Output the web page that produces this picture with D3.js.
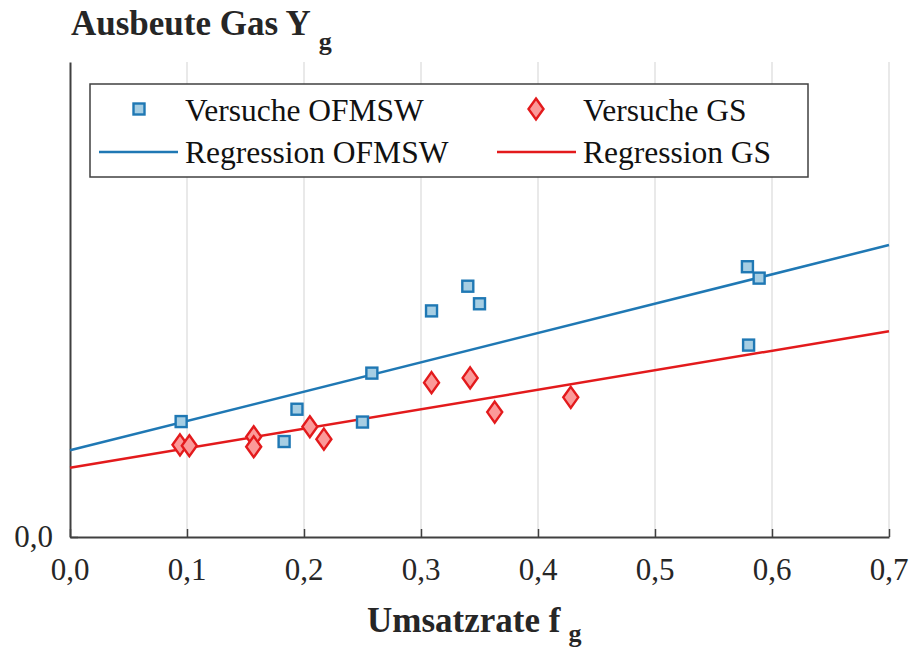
<!DOCTYPE html>
<html lang="de">
<head>
<meta charset="UTF-8">
<title>Ausbeute Gas</title>
<script src="https://d3js.org/d3.v7.min.js"></script>
<style>
  html, body { margin: 0; padding: 0; background: white; }
  svg text { font-family: "Liberation Serif", "Times New Roman", Times, serif; }
  .tick-label { font-size: 31px; fill: #262626; }
  .legend text { font-size: 31.5px; fill: #111; }
  .title { font-size: 35px; font-weight: bold; fill: #262626; }
</style>
</head>
<body>
<div id="chart"></div>
<script>

// ---------- data ----------
const ofmswX = [0.095, 0.194, 0.183, 0.250, 0.258, 0.309, 0.340, 0.350, 0.579, 0.589, 0.580];
const ofmswY = [0.243, 0.269, 0.201, 0.242, 0.345, 0.476, 0.528, 0.491, 0.569, 0.545, 0.404];

const gsX = [0.094, 0.102, 0.157, 0.157, 0.205, 0.217, 0.309, 0.342, 0.363, 0.428];
const gsY = [0.194, 0.192, 0.211, 0.190, 0.232, 0.206, 0.325, 0.335, 0.263, 0.294];

// regression lines, end points at f = 0 and f = 0.7
const regX = [0, 0.7];
const regOfmswY = [0.1825, 0.6147];
const regGsY = [0.1459, 0.4331];

const xTicks = [0, 0.1, 0.2, 0.3, 0.4, 0.5, 0.6, 0.7];
const yTicks = [0];

const blue = "#1f78b4", blueFill = "#a6cee3";
const red = "#e31a1c", redFill = "#fb9a99";

// ---------- size ----------
const totalWidth = 911, totalHeight = 653;
const margin = {top: 62, right: 22, bottom: 116, left: 70};

const svg = d3.select("#chart").append("svg")
  .attr("width", totalWidth)
  .attr("height", totalHeight)
  .attr("font-family", "'Liberation Serif', 'Times New Roman', serif");

const x = d3.scaleLinear().domain([0, 0.7]).range([margin.left, totalWidth - margin.right]);
const y = d3.scaleLinear().domain([0, 1]).range([totalHeight - margin.bottom, margin.top]);

const fmt = d => d3.format(".1f")(d).replace(".", ",");

// ---------- grid ----------
svg.append("g")
  .selectAll("line")
  .data(xTicks.slice(1))
  .join("line")
  .attr("x1", d => x(d)).attr("x2", d => x(d))
  .attr("y1", y(1)).attr("y2", y(0))
  .attr("stroke", "#e2e2e2")
  .attr("stroke-width", 1.5);

// ---------- axes ----------
const xAxis = svg.append("g")
  .attr("transform", `translate(0,${y(0)})`)
  .call(d3.axisBottom(x).tickValues(xTicks).tickSizeInner(-8).tickSizeOuter(0).tickFormat(""));
xAxis.select(".domain").attr("stroke", "#404040").attr("stroke-width", 2);
xAxis.selectAll(".tick line").attr("stroke", "#404040").attr("stroke-width", 1.5);

const yAxis = svg.append("g")
  .attr("transform", `translate(${x(0)},0)`)
  .call(d3.axisLeft(y).tickValues(yTicks).tickSizeInner(-8).tickSizeOuter(0).tickFormat(""));
yAxis.select(".domain").attr("stroke", "#404040").attr("stroke-width", 2);
yAxis.selectAll(".tick line").attr("stroke", "#404040").attr("stroke-width", 1.5);

svg.append("g")
  .selectAll("text")
  .data(xTicks)
  .join("text")
  .attr("class", "tick-label")
  .attr("x", d => x(d))
  .attr("y", y(0) + 43)
  .attr("text-anchor", "middle")
  .text(fmt);

svg.append("g")
  .selectAll("text")
  .data(yTicks)
  .join("text")
  .attr("class", "tick-label")
  .attr("x", x(0) - 17)
  .attr("y", d => y(d) + 10)
  .attr("text-anchor", "end")
  .text(fmt);

// ---------- regression lines ----------
const line = d3.line().x(d => x(d[0])).y(d => y(d[1]));

svg.append("path")
  .datum(d3.zip(regX, regOfmswY))
  .attr("d", line)
  .attr("fill", "none")
  .attr("stroke", blue)
  .attr("stroke-width", 2.5);

svg.append("path")
  .datum(d3.zip(regX, regGsY))
  .attr("d", line)
  .attr("fill", "none")
  .attr("stroke", red)
  .attr("stroke-width", 2.5);

// ---------- markers ----------
const diamond = "M0,-10.5L7.5,0L0,10.5L-7.5,0Z";

svg.append("g")
  .selectAll("path")
  .data(d3.zip(gsX, gsY))
  .join("path")
  .attr("d", diamond)
  .attr("transform", d => `translate(${x(d[0])},${y(d[1])})`)
  .attr("fill", redFill)
  .attr("stroke", red)
  .attr("stroke-width", 2.4);

svg.append("g")
  .selectAll("rect")
  .data(d3.zip(ofmswX, ofmswY))
  .join("rect")
  .attr("x", d => x(d[0]) - 5.5)
  .attr("y", d => y(d[1]) - 5.5)
  .attr("width", 11)
  .attr("height", 11)
  .attr("fill", blueFill)
  .attr("stroke", blue)
  .attr("stroke-width", 2.4);

// ---------- legend ----------
const legend = svg.append("g").attr("class", "legend");

legend.append("rect")
  .attr("x", 90).attr("y", 84)
  .attr("width", 718).attr("height", 93)
  .attr("fill", "white")
  .attr("stroke", "#404040")
  .attr("stroke-width", 1.5);

legend.append("rect")
  .attr("x", 133.5).attr("y", 103.5).attr("width", 11).attr("height", 11)
  .attr("fill", blueFill).attr("stroke", blue).attr("stroke-width", 2.4);
legend.append("text").attr("x", 185).attr("y", 121).text("Versuche OFMSW");

legend.append("line")
  .attr("x1", 99).attr("x2", 178).attr("y1", 152).attr("y2", 152)
  .attr("stroke", blue).attr("stroke-width", 2.5);
legend.append("text").attr("x", 185).attr("y", 163).text("Regression OFMSW");

legend.append("path")
  .attr("d", diamond)
  .attr("transform", "translate(536,109)")
  .attr("fill", redFill).attr("stroke", red).attr("stroke-width", 2.4);
legend.append("text").attr("x", 583).attr("y", 121).text("Versuche GS");

legend.append("line")
  .attr("x1", 497).attr("x2", 576).attr("y1", 152).attr("y2", 152)
  .attr("stroke", red).attr("stroke-width", 2.5);
legend.append("text").attr("x", 583).attr("y", 163).text("Regression GS");

// ---------- titles ----------
const title = svg.append("text")
  .attr("class", "title")
  .attr("x", 71).attr("y", 35);
title.append("tspan").text("Ausbeute Gas Y");
title.append("tspan").attr("dx", 8).attr("dy", 15).style("font-size", "26px").text("g");

const xTitle = svg.append("text")
  .attr("class", "title")
  .attr("x", 367).attr("y", 632);
xTitle.append("tspan").text("Umsatzrate f");
xTitle.append("tspan").attr("dx", 8).attr("dy", 10).style("font-size", "26px").text("g");

</script>
</body>
</html>
